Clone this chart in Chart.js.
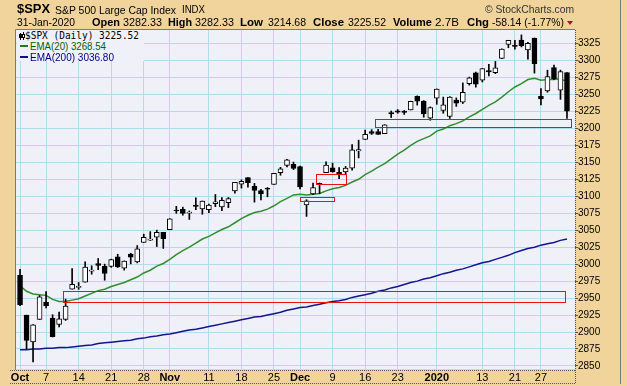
<!DOCTYPE html>
<html>
<head>
<meta charset="utf-8">
<script src="https://cdn.jsdelivr.net/npm/chart.js"></script>
<style>
  body { margin: 0; background: #f0d49c; width: 627px; height: 386px; overflow: hidden; position: relative;
         font-family: 'Liberation Sans', Arial, sans-serif; }
  #wrap { position: absolute; left: 0; top: 0; width: 627px; height: 386px; }
  .t { position: absolute; white-space: nowrap; transform-origin: 0 0; line-height: 1; }
  #leg { position: absolute; left: 17px; top: 30px; width: 127px; height: 31px; background: #eff0f8; }
  .ico { position: absolute; }
</style>
</head>
<body>
<div id="wrap"><canvas id="chart"></canvas></div>
<div id="leg"></div>
<script>
// ===== Data (S&P 500 daily, 1-Oct-2019 .. 31-Jan-2020) =====
const opens = [2983.69,2924.78,2885.38,2918.56,2944.23,2920.40,2911.10,2918.55,2963.07,2965.81,2973.61,2989.68,3000.77,2996.84,2996.48,3010.73,2994.01,3014.78,3003.32,3032.12,3035.39,3039.74,3046.90,
  3050.72,3078.96,3080.80,3075.10,3087.02,3081.25,3080.33,3089.28,3084.18,3090.75,3107.92,3117.91,3127.45,3114.66,3108.49,3111.41,3117.44,3134.85,3145.49,3147.18,
  3143.85,3087.41,3103.50,3119.21,3134.62,3141.86,3135.36,3135.75,3141.23,3166.65,3183.63,3195.40,3195.21,3192.32,3223.33,3226.05,3225.45,3227.20,3247.23,3240.09,3215.18,
  3244.67,3226.36,3217.55,3241.86,3238.59,3266.03,3281.81,3271.13,3285.35,3282.27,3302.97,3323.66,3321.03,3330.02,3315.77,3333.10,3247.16,3255.35,3289.46,3256.45,3282.33];
const highs = [2992.53,2924.78,2911.13,2953.74,2959.75,2925.47,2929.32,2948.46,2993.28,2972.84,3003.28,2997.54,3008.29,3000.00,3007.33,3014.57,3004.78,3016.07,3027.39,3044.08,3047.87,3050.10,3046.90,
  3066.95,3085.20,3083.95,3078.34,3097.77,3093.09,3088.33,3102.61,3098.06,3098.20,3120.46,3124.17,3127.64,3118.97,3110.11,3112.87,3133.83,3142.69,3154.26,3150.30,
  3144.31,3094.97,3119.38,3119.45,3150.60,3148.87,3142.12,3143.98,3176.28,3182.68,3197.71,3198.22,3198.48,3205.48,3225.65,3227.78,3226.43,3240.08,3247.93,3240.92,3231.72,
  3258.14,3246.15,3246.84,3244.91,3267.07,3275.58,3282.99,3288.13,3294.25,3298.66,3317.11,3329.88,3329.79,3337.77,3326.88,3333.18,3258.85,3285.78,3293.47,3285.91,3282.33];
const lows = [2938.70,2874.93,2855.94,2918.56,2935.68,2892.66,2907.41,2917.12,2963.07,2962.94,2973.61,2985.20,2991.79,2976.31,2995.35,2995.04,2991.21,3000.42,3001.94,3032.12,3034.81,3025.96,3023.19,
  3050.72,3074.87,3072.15,3065.89,3080.23,3073.58,3075.82,3084.73,3078.80,3083.26,3104.60,3112.06,3113.47,3091.41,3094.55,3099.26,3117.44,3131.00,3143.41,3139.34,
  3110.78,3070.33,3102.53,3103.76,3134.62,3135.46,3126.09,3133.21,3138.47,3156.51,3183.63,3191.03,3191.14,3192.32,3216.03,3222.30,3220.51,3227.20,3234.37,3216.57,3212.03,
  3235.53,3222.34,3214.64,3232.43,3236.67,3263.67,3260.86,3268.43,3277.19,3280.69,3302.82,3318.86,3316.61,3320.04,3301.87,3281.53,3234.50,3253.22,3271.89,3242.80,3214.68];
const closes = [2940.25,2887.61,2910.63,2952.01,2938.79,2893.06,2919.40,2938.13,2970.27,2966.15,2995.68,2989.69,2997.95,2986.20,3006.72,2995.99,3004.52,3010.29,3022.55,3039.42,3036.89,3046.77,3037.56,
  3066.91,3078.27,3074.62,3076.78,3085.18,3093.08,3087.01,3091.84,3094.04,3096.63,3120.46,3122.03,3120.18,3108.46,3103.54,3110.29,3133.64,3140.52,3153.63,3140.98,
  3113.87,3093.20,3112.76,3117.43,3145.91,3135.96,3132.52,3141.63,3168.57,3168.80,3191.45,3192.52,3191.14,3205.37,3221.22,3224.01,3223.38,3239.91,3240.02,3221.29,3230.78,
  3257.85,3234.85,3246.28,3237.18,3253.05,3274.70,3265.35,3288.13,3283.15,3289.29,3316.81,3329.62,3320.79,3321.75,3325.54,3295.47,3243.63,3276.24,3273.40,3283.66,3225.52];
const ema20 = [2968,2960,2956,2955,2954,2948,2945,2945,2947,2949,2953,2957,2961,2963,2967,2970,2973,2977,2981,2987,
  2991,2997,3001,3007,3014,3020,3025,3031,3037,3041,3046,3051,3055,3061,3067,3072,3076,3078,3081,3086,
  3092,3097,3102,3103,3102,3103,3104,3108,3111,3113,3116,3121,3125,3132,3137,3143,3148,3155,3162,3168,
  3175,3181,3185,3189,3196,3199,3204,3207,3211,3217,3222,3228,3234,3239,3246,3254,3261,3266,3272,3274,
  3271,3272,3272,3273,3269];
const ema200 = [2874,2874,2875,2875,2876,2876,2877,2877,2878,2879,2880,2881,2883,2884,2885,2886,2887,2888,2890,2891,
  2893,2894,2896,2897,2899,2901,2903,2904,2906,2908,2910,2912,2914,2916,2918,2920,2922,2923,2925,2927,
  2929,2932,2934,2936,2937,2939,2941,2943,2945,2946,2948,2951,2953,2955,2957,2960,2962,2965,2967,2970,
  2973,2975,2978,2980,2983,2986,2988,2991,2993,2996,2999,3002,3004,3007,3010,3013,3017,3020,3023,3025,
  3028,3030,3032,3035,3037];

// tick labels (x = trading-day index)
const dateTickIdx = [0,4,9,14,19,23,29,34,39,43,48,53,58,64,71,76,80];
const dateTickLabels = ['Oct','7','14','21','28','Nov','11','18','25','Dec','9','16','23','2020','13','21','27'];
const monthLabels = ['Oct','Nov','Dec','2020'];
const priceTicks = [2850,2875,2900,2925,2950,2975,3000,3025,3050,3075,3100,3125,3150,3175,3200,3225,3250,3275,3300,3325];

// annotation boxes, in day index / price units
const boxX0 = [6.6, 43.0, 45.5, 54.5];
const boxX1 = [83.7, 48.2, 50.1, 84.6];
const boxLo = [2944.8, 3092.7, 3118.2, 3202.3];
const boxHi = [2960.2, 3099.0, 3132.5, 3214.0];

const FONT = "'Liberation Sans', Arial, sans-serif";

// ===== Header texts =====
const header = [
  ['$SPX', 17, 33, 14, 13.5, 'bold'],
  ['S&P 500 Large Cap Index', 55, 121, 14, 11, 'normal'],
  ['INDX', 182, 23, 14, 10, 'normal'],
  ['\u00a9 StockCharts.com', 485, 89, 13, 11, 'normal', '#333'],
  ['31-Jan-2020', 17, 58, 26, 11, 'normal'],
  ['Open', 92, 28, 26, 11, 'bold'],
  ['3282.33', 123, 39, 26, 11, 'normal'],
  ['High', 168, 24, 26, 11, 'bold'],
  ['3282.33', 195, 39, 26, 11, 'normal'],
  ['Low', 240, 23, 26, 11, 'bold'],
  ['3214.68', 268, 38, 26, 11, 'normal'],
  ['Close', 313, 31, 26, 11, 'bold'],
  ['3225.52', 348, 38, 26, 11, 'normal'],
  ['Volume', 393, 39, 26, 11, 'bold'],
  ['2.7B', 435, 24, 26, 11, 'normal'],
  ['Chg', 467, 22, 26, 11, 'bold'],
  ['-58.14 (-1.77%)', 492, 72, 26, 11, 'normal'],
];

function addText(parent, text, left, width, base, size, weight, color, family) {
  const s = document.createElement('span');
  s.className = 't';
  s.textContent = text;
  s.style.left = left + 'px';
  s.style.top = (base - size * 0.86) + 'px';
  s.style.fontSize = size + 'px';
  s.style.fontWeight = weight;
  s.style.color = color || '#000';
  s.style.fontFamily = family || FONT;
  parent.appendChild(s);
  if (width) {
    const w = s.getBoundingClientRect().width;
    s.style.transform = 'scaleX(' + (width / w) + ')';
  }
  return s;
}

header.forEach(h => addText(document.body, h[0], h[1], h[2], h[3], h[4], h[5], h[6]));
// red down triangle after Chg
const tri = document.createElement('div');
tri.style.cssText = 'position:absolute;left:567px;top:21px;width:0;height:0;border-left:3.5px solid transparent;border-right:3.5px solid transparent;border-top:4px solid #a8102a;';
document.body.appendChild(tri);

// ===== Legend =====
const leg = document.getElementById('leg');
addText(leg, '$SPX (Daily) 3225.52', 8, 114, 9.5, 9.6, 'normal', '#000', "'DejaVu Sans Mono', monospace");
addText(leg, 'EMA(20) 3268.54', 13, 76, 21, 10, 'normal', '#006400');
addText(leg, 'EMA(200) 3036.80', 13, 84, 32, 10, 'normal', '#000080');
function legBox(css) { const d = document.createElement('div'); d.className = 'ico'; d.style.cssText += css; leg.appendChild(d); }
legBox('left:3px;top:3px;width:1px;height:7px;background:#000');
legBox('left:2px;top:4px;width:3px;height:4px;background:#000');
legBox('left:6px;top:2px;width:1px;height:8px;background:#000');
legBox('left:5px;top:4px;width:3px;height:4px;box-sizing:border-box;border:1px solid #000;background:#fff');
legBox('left:3px;top:15px;width:8px;height:2px;background:#1e7a1e');
legBox('left:3px;top:26px;width:8px;height:2px;background:#10108a');

// ===== Chart =====
const idx = closes.map((c, i) => i);
const bodyData = idx.map(i => ({ x: i, y: [opens[i], closes[i]] }));
const wickData = idx.map(i => ({ x: i, y: [lows[i], highs[i]] }));
const ema20Data = idx.map(i => ({ x: i, y: ema20[i] }));
const ema200Data = idx.map(i => ({ x: i, y: ema200[i] }));

const plotBg = {
  id: 'plotBg',
  beforeDraw(chart) {
    const { ctx, chartArea: a } = chart;
    ctx.save();
    ctx.fillStyle = '#eff0f8';
    ctx.fillRect(a.left, a.top, a.right - a.left, a.bottom - a.top);
    ctx.restore();
  }
};

const frame = {
  id: 'frame',
  afterDatasetsDraw(chart) {
    const { ctx, chartArea: a, scales: { x, y } } = chart;
    ctx.save();
    ctx.beginPath();
    ctx.rect(a.left, a.top, a.right - a.left, a.bottom - a.top);
    ctx.clip();
    ctx.strokeStyle = '#ee1111';
    ctx.lineWidth = 1;
    for (let i = 0; i < boxX0.length; i++) {
      const x0 = Math.round(x.getPixelForValue(boxX0[i])), x1 = Math.round(x.getPixelForValue(boxX1[i]));
      const y0 = Math.round(y.getPixelForValue(boxHi[i])), y1 = Math.round(y.getPixelForValue(boxLo[i]));
      ctx.strokeRect(x0 + 0.5, y0 + 0.5, x1 - x0, y1 - y0);
    }
    ctx.restore();
  },
  afterDraw(chart) {
    const { ctx, chartArea: a } = chart;
    const line = (x0, y0, x1, y1) => { ctx.beginPath(); ctx.moveTo(x0, y0); ctx.lineTo(x1, y1); ctx.stroke(); };
    ctx.save();
    ctx.lineWidth = 1;
    ctx.strokeStyle = '#7a7a7a';
    line(a.left - 0.5, a.top - 0.5, a.right, a.top - 0.5);
    line(a.left - 0.5, a.top - 0.5, a.left - 0.5, a.bottom + 1);
    line(620.5, 0, 620.5, 384);
    ctx.setLineDash([1, 1]);
    ctx.strokeStyle = '#555';
    line(a.right + 0.5, a.top, a.right + 0.5, 384);
    line(10, a.bottom + 1.5, a.right, a.bottom + 1.5);
    line(10, 383.5, a.right, 383.5);
    ctx.restore();
  }
};

new Chart(document.getElementById('chart'), {
  type: 'bar',
  data: {
    datasets: [
      { type: 'line', data: ema200Data, borderColor: '#14148c', borderWidth: 1.5, pointRadius: 0, order: 3 },
      { type: 'line', data: ema20Data, borderColor: '#2f8f2f', borderWidth: 1.5, pointRadius: 0, order: 2 },
      { data: wickData, backgroundColor: '#000', barThickness: 1, grouped: false, order: 1 },
      { data: bodyData, backgroundColor: idx.map(i => closes[i] >= opens[i] ? '#fff' : '#000'),
        borderColor: '#000', borderWidth: 1, borderSkipped: false, barThickness: 5,
        minBarLength: 1, grouped: false, order: 0 }
    ]
  },
  options: {
    responsive: true,
    maintainAspectRatio: false,
    animation: false,
    layout: { padding: { left: 16, top: 30, right: 6, bottom: 2 } },
    plugins: { legend: { display: false }, tooltip: { enabled: false } },
    scales: {
      x: {
        type: 'linear', min: -0.62, max: 85.23, offset: false,
        grid: { offset: false, color: '#b0dcec', drawTicks: false },
        border: { display: false },
        afterBuildTicks: s => { s.ticks = dateTickIdx.map(v => ({ value: v })); },
        afterFit: s => { s.height = 15; },
        ticks: {
          autoSkip: false, maxRotation: 0, padding: 2, color: '#000',
          callback: (v, i) => dateTickLabels[i],
          font: ctx => ({ family: FONT, size: 11,
            weight: monthLabels.includes(dateTickLabels[ctx.index]) ? 'bold' : 'normal' })
        }
      },
      y: {
        position: 'right', min: 2845.5, max: 3345, beginAtZero: false,
        grid: { color: '#b0dcec', tickColor: '#555', tickLength: 3 },
        border: { display: false },
        afterBuildTicks: s => { s.ticks = priceTicks.map(v => ({ value: v })); },
        afterFit: s => { s.width = 46; },
        ticks: { padding: 0, color: '#000', font: { family: FONT, size: 10 }, callback: v => v }
      }
    }
  },
  plugins: [plotBg, frame]
});
</script>
</body>
</html>
